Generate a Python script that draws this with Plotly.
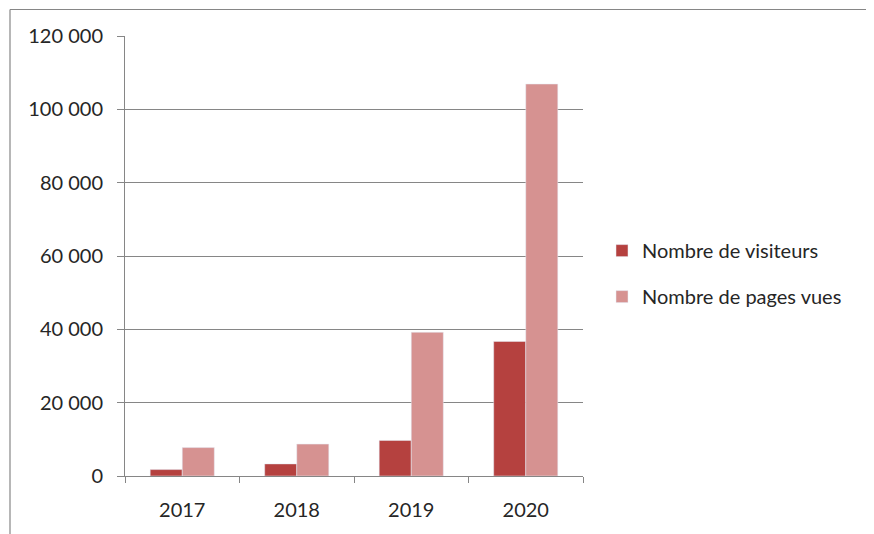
import plotly.graph_objects as go

years = ["2017", "2018", "2019", "2020"]
visiteurs = [1750, 3300, 9700, 36700]
pages_vues = [7750, 8700, 39200, 106900]
y_ticks = [0, 20000, 40000, 60000, 80000, 100000, 120000]

font_family = "Lato, 'Open Sans', sans-serif"

fig = go.Figure()
fig.add_trace(go.Bar(x=years, y=visiteurs, name="Nombre de visiteurs",
                     marker_color="#B5413F", legendgroup="a"))
fig.add_trace(go.Bar(x=years, y=pages_vues, name="Nombre de pages vues",
                     marker_color="#D69291", legendgroup="b"))

border_x0 = (2 - 117) / 458
border_x1 = (880 - 117) / 458
border_y0 = (468 - 560) / 440
border_y1 = (468 - 1.5) / 440

fig.update_layout(
    width=866, height=526,
    margin=dict(l=117, r=291, t=28, b=58),
    paper_bgcolor="white", plot_bgcolor="white",
    barmode="group", bargap=0.44, bargroupgap=0,
    separators=", ",
    font=dict(family=font_family, size=20, color="#262626"),
    showlegend=True,
    legend=dict(x=1.0415, xanchor="left", y=0.46, yanchor="middle",
                font=dict(size=20, color="#262626"),
                traceorder="grouped", tracegroupgap=17,
                itemwidth=30),
    xaxis=dict(showline=True, linecolor="#868686", linewidth=1,
               ticks="outside", tickson="boundaries", ticklen=6,
               tickcolor="#868686", showgrid=False,
               tickfont=dict(size=20), ticklabelstandoff=16),
    yaxis=dict(range=[0, 120000], tickvals=y_ticks, tickformat=",d",
               showline=True, linecolor="#868686", linewidth=1,
               ticks="outside", ticklen=7, tickcolor="#868686",
               showgrid=True, gridcolor="#868686", gridwidth=1,
               zeroline=False, tickfont=dict(size=20), ticklabelstandoff=10),
    shapes=[
        dict(type="line", xref="paper", yref="paper",
             x0=border_x0, x1=border_x1, y0=border_y1, y1=border_y1,
             line=dict(color="#868686", width=1.2)),
        dict(type="line", xref="paper", yref="paper",
             x0=border_x0, x1=border_x0, y0=border_y0, y1=border_y1,
             line=dict(color="#868686", width=1.2)),
    ],
)

fig.write_html("out.html")
